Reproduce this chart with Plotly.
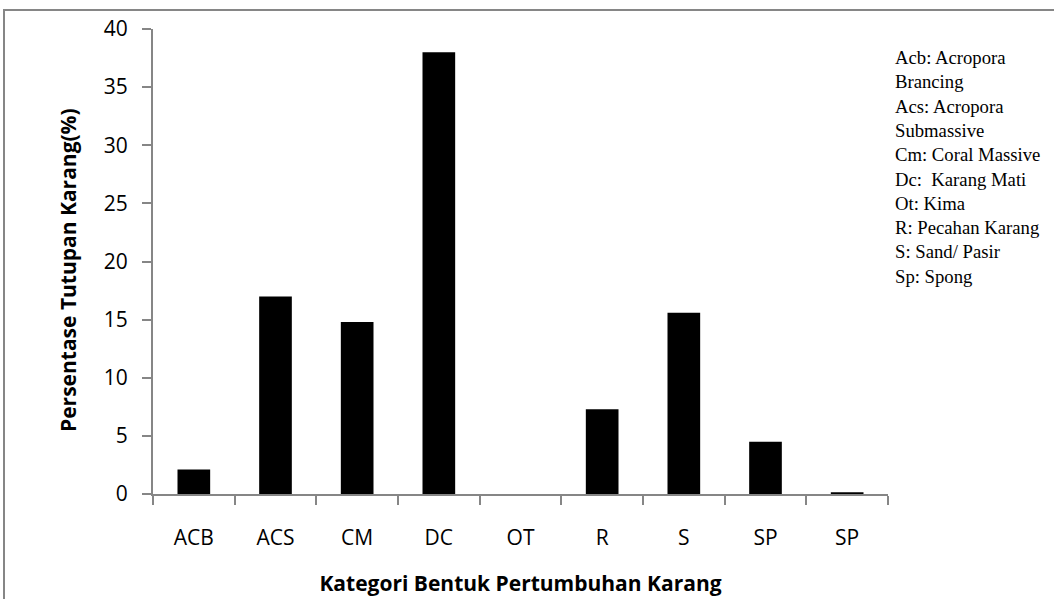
import plotly.graph_objects as go

categories = ["ACB", "ACS", "CM", "DC", "OT", "R", "S", "SP", "SP"]
values = [2.1, 17.0, 14.8, 38.0, 0.0, 7.3, 15.6, 4.5, 0.15]
y_ticks = [0, 5, 10, 15, 20, 25, 30, 35, 40]
legend_lines = [
    "Acb: Acropora", "Brancing", "Acs: Acropora", "Submassive",
    "Cm: Coral Massive", "Dc:  Karang Mati", "Ot: Kima",
    "R: Pecahan Karang", "S: Sand/ Pasir", "Sp: Spong",
]

W, H = 1054, 599
L, R, T, B = 153, 166, 29, 105
pw, ph = W - L - R, H - T - B

positions = list(range(len(categories)))
grey = "#868686"
sans = "Open Sans, Liberation Sans, sans-serif"

fig = go.Figure(go.Bar(
    x=positions, y=values, marker=dict(color="black", line=dict(width=0)),
    width=0.4,
))

fig.update_layout(
    width=W, height=H,
    margin=dict(l=L, r=R, t=T, b=B, pad=0, autoexpand=False),
    paper_bgcolor="white", plot_bgcolor="white",
    showlegend=False,
    font=dict(family=sans, color="black"),
    xaxis=dict(
        range=[-0.5, len(categories) - 0.5],
        tickvals=positions, ticktext=categories, ticks="",
        tickfont=dict(size=21, family=sans), ticklabelstandoff=24,
        showline=True, linecolor=grey, linewidth=2,
        showgrid=False, zeroline=False, automargin=False,
        minor=dict(tick0=-0.5, dtick=1, ticks="outside", ticklen=9,
                   tickcolor=grey, tickwidth=2, showgrid=False),
        title=dict(text="<b>Kategori Bentuk Pertumbuhan Karang</b>",
                   font=dict(size=21, family=sans), standoff=26),
        fixedrange=True,
    ),
    yaxis=dict(
        range=[0, 40], tickvals=y_ticks, ticks="outside", ticklen=9,
        tickcolor=grey, tickwidth=2,
        tickfont=dict(size=21, family=sans), ticklabelstandoff=10,
        showline=True, linecolor=grey, linewidth=2,
        showgrid=False, zeroline=False, automargin=False,
        fixedrange=True,
    ),
)

# y-axis title placed as rotated text
fig.add_annotation(
    xref="paper", yref="paper", x=(68 - L) / pw, y=(H - B - 270) / ph,
    xanchor="center", yanchor="middle", textangle=-90, showarrow=False,
    text="<b>Persentase Tutupan Karang(%)</b>",
    font=dict(size=21, family=sans, color="black"),
)

# outer chart-area border (clipped at right/bottom in the reference)
fig.add_shape(type="rect", xref="paper", yref="paper",
              x0=(4 - L) / pw, x1=(W + 20 - L) / pw,
              y0=(H - B - (H + 20)) / ph, y1=(H - B - 10) / ph,
              line=dict(color=grey, width=2), layer="below")

fig.add_annotation(
    xref="paper", yref="paper", x=(893 - L) / pw, y=(H - B - 45) / ph,
    xanchor="left", yanchor="top", align="left", showarrow=False,
    text="<br>".join(legend_lines),
    font=dict(family="Liberation Serif, Times New Roman, serif", size=18.7, color="black"),
)

fig.write_html(
    "out.html",
    config={"displayModeBar": False, "staticPlot": True},
    post_script="document.body.style.margin='0';document.body.style.overflow='hidden';",
)
